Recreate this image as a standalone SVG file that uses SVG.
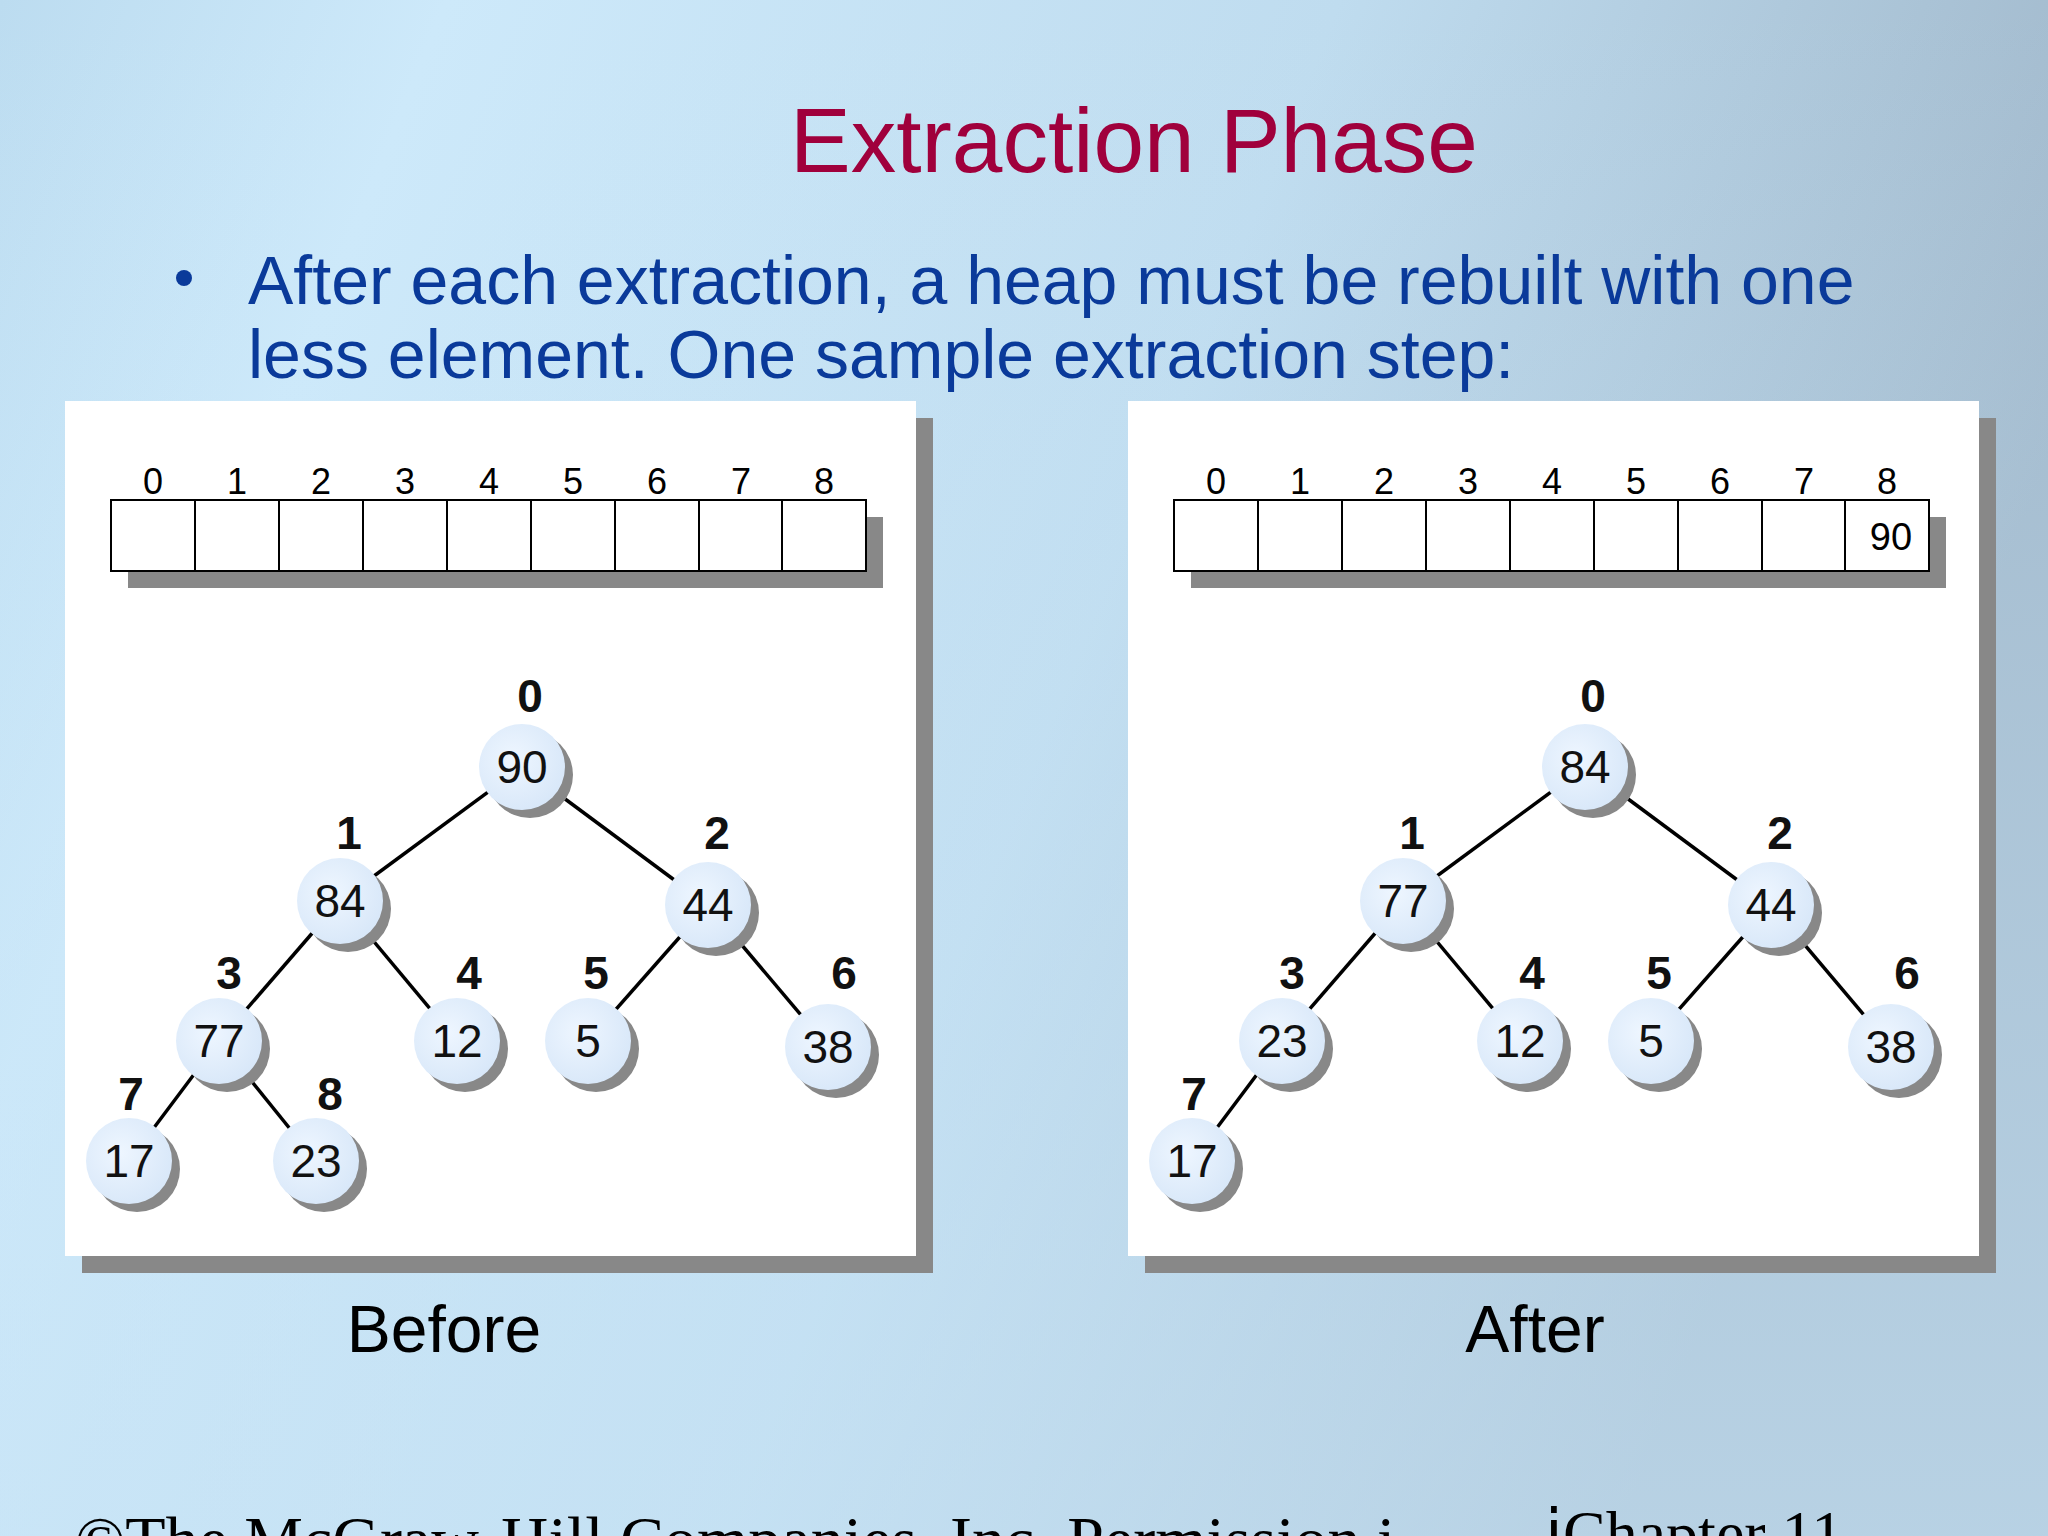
<svg xmlns="http://www.w3.org/2000/svg" width="2048" height="1536" viewBox="0 0 2048 1536">
<defs>
<linearGradient id="bg" x1="0" y1="0" x2="1" y2="0.3">
<stop offset="0" stop-color="#bcdcf0"/>
<stop offset="0.2" stop-color="#cde9fa"/>
<stop offset="0.6" stop-color="#bfdcef"/>
<stop offset="1" stop-color="#9fb6c9"/>
</linearGradient>
<linearGradient id="bg2" x1="0" y1="0" x2="0" y2="1">
<stop offset="0" stop-color="#cde9fa" stop-opacity="0"/>
<stop offset="1" stop-color="#c8e4f6" stop-opacity="0.6"/>
</linearGradient>
<radialGradient id="nd" cx="0.4" cy="0.4" r="0.7">
<stop offset="0" stop-color="#eef6ff"/>
<stop offset="1" stop-color="#d6e6f8"/>
</radialGradient>
<g id="arr">
<rect x="17" y="17" width="755" height="71" fill="#888"/>
<rect x="0" y="0" width="755" height="71" fill="#fff" stroke="#000" stroke-width="2"/>
<path d="M84 0V71M168 0V71M252 0V71M336 0V71M420 0V71M504 0V71M588 0V71M671 0V71" stroke="#000" stroke-width="2"/>
<g class="ix">
<text x="42" y="-6">0</text><text x="126" y="-6">1</text><text x="210" y="-6">2</text><text x="294" y="-6">3</text><text x="378" y="-6">4</text><text x="462" y="-6">5</text><text x="546" y="-6">6</text><text x="630" y="-6">7</text><text x="713" y="-6">8</text>
</g>
</g>
</defs>
<style>
.ix{font-family:"Liberation Sans",Arial,sans-serif;font-size:36px;text-anchor:middle;fill:#000}
.n circle.s{fill:#888}
.n circle.c{fill:url(#nd)}
.n text{font-family:"Liberation Sans",Arial,sans-serif;font-size:46px;text-anchor:middle;fill:#111}
.lb{font-family:"DejaVu Sans Mono",monospace;font-weight:bold;font-size:38px;text-anchor:middle;fill:#000}
.e line{stroke:#000;stroke-width:3.5}
</style>
<rect width="2048" height="1536" fill="url(#bg)"/>
<rect width="2048" height="1536" fill="url(#bg2)"/>
<text x="1134" y="172" font-family="Liberation Sans,Arial,sans-serif" font-size="91" fill="#a0003c" text-anchor="middle">Extraction Phase</text>
<circle cx="184" cy="278" r="8" fill="#0a3a9a"/>
<text font-family="Liberation Sans,Arial,sans-serif" font-size="68" fill="#0a3a9a"><tspan x="248" y="304">After each extraction, a heap must be rebuilt with one</tspan><tspan x="248" y="378">less element. One sample extraction step:</tspan></text>

<g id="panelL">
<rect x="82" y="418" width="851" height="855" fill="#888"/>
<rect x="65" y="401" width="851" height="855" fill="#fff"/>
<use href="#arr" x="111" y="500"/>
</g>
<g id="panelR">
<rect x="1145" y="418" width="851" height="855" fill="#888"/>
<rect x="1128" y="401" width="851" height="855" fill="#fff"/>
<use href="#arr" x="1174" y="500"/>
<text x="1891" y="550" font-family="Liberation Sans,Arial,sans-serif" font-size="38" text-anchor="middle">90</text>
</g>

<g id="connectors" class="e">
<line x1="522" y1="767" x2="340" y2="901"/><line x1="522" y1="767" x2="708" y2="905"/>
<line x1="340" y1="901" x2="219" y2="1041"/><line x1="340" y1="901" x2="457" y2="1041"/>
<line x1="708" y1="905" x2="588" y2="1041"/><line x1="708" y1="905" x2="828" y2="1047"/>
<line x1="219" y1="1041" x2="129" y2="1161"/><line x1="219" y1="1041" x2="316" y2="1161"/>
<line x1="1585" y1="767" x2="1403" y2="901"/><line x1="1585" y1="767" x2="1771" y2="905"/>
<line x1="1403" y1="901" x2="1282" y2="1041"/><line x1="1403" y1="901" x2="1520" y2="1041"/>
<line x1="1771" y1="905" x2="1651" y2="1041"/><line x1="1771" y1="905" x2="1891" y2="1047"/>
<line x1="1282" y1="1041" x2="1192" y2="1161"/>
</g>

<g id="treeL">
<g id="L0" class="n"><circle class="s" cx="530" cy="775" r="43"/><circle class="c" cx="522" cy="767" r="43"/><text x="522" y="783">90</text><text class="lb" x="530" y="712">0</text></g>
<g id="L1" class="n"><circle class="s" cx="348" cy="909" r="43"/><circle class="c" cx="340" cy="901" r="43"/><text x="340" y="917">84</text><text class="lb" x="349" y="849">1</text></g>
<g id="L2" class="n"><circle class="s" cx="716" cy="913" r="43"/><circle class="c" cx="708" cy="905" r="43"/><text x="708" y="921">44</text><text class="lb" x="717" y="849">2</text></g>
<g id="L3" class="n"><circle class="s" cx="227" cy="1049" r="43"/><circle class="c" cx="219" cy="1041" r="43"/><text x="219" y="1057">77</text><text class="lb" x="229" y="989">3</text></g>
<g id="L4" class="n"><circle class="s" cx="465" cy="1049" r="43"/><circle class="c" cx="457" cy="1041" r="43"/><text x="457" y="1057">12</text><text class="lb" x="469" y="989">4</text></g>
<g id="L5" class="n"><circle class="s" cx="596" cy="1049" r="43"/><circle class="c" cx="588" cy="1041" r="43"/><text x="588" y="1057">5</text><text class="lb" x="596" y="989">5</text></g>
<g id="L6" class="n"><circle class="s" cx="836" cy="1055" r="43"/><circle class="c" cx="828" cy="1047" r="43"/><text x="828" y="1063">38</text><text class="lb" x="844" y="989">6</text></g>
<g id="L7" class="n"><circle class="s" cx="137" cy="1169" r="43"/><circle class="c" cx="129" cy="1161" r="43"/><text x="129" y="1177">17</text><text class="lb" x="131" y="1110">7</text></g>
<g id="L8" class="n"><circle class="s" cx="324" cy="1169" r="43"/><circle class="c" cx="316" cy="1161" r="43"/><text x="316" y="1177">23</text><text class="lb" x="330" y="1110">8</text></g>
</g>

<g id="treeR">
<g id="R0" class="n"><circle class="s" cx="1593" cy="775" r="43"/><circle class="c" cx="1585" cy="767" r="43"/><text x="1585" y="783">84</text><text class="lb" x="1593" y="712">0</text></g>
<g id="R1" class="n"><circle class="s" cx="1411" cy="909" r="43"/><circle class="c" cx="1403" cy="901" r="43"/><text x="1403" y="917">77</text><text class="lb" x="1412" y="849">1</text></g>
<g id="R2" class="n"><circle class="s" cx="1779" cy="913" r="43"/><circle class="c" cx="1771" cy="905" r="43"/><text x="1771" y="921">44</text><text class="lb" x="1780" y="849">2</text></g>
<g id="R3" class="n"><circle class="s" cx="1290" cy="1049" r="43"/><circle class="c" cx="1282" cy="1041" r="43"/><text x="1282" y="1057">23</text><text class="lb" x="1292" y="989">3</text></g>
<g id="R4" class="n"><circle class="s" cx="1528" cy="1049" r="43"/><circle class="c" cx="1520" cy="1041" r="43"/><text x="1520" y="1057">12</text><text class="lb" x="1532" y="989">4</text></g>
<g id="R5" class="n"><circle class="s" cx="1659" cy="1049" r="43"/><circle class="c" cx="1651" cy="1041" r="43"/><text x="1651" y="1057">5</text><text class="lb" x="1659" y="989">5</text></g>
<g id="R6" class="n"><circle class="s" cx="1899" cy="1055" r="43"/><circle class="c" cx="1891" cy="1047" r="43"/><text x="1891" y="1063">38</text><text class="lb" x="1907" y="989">6</text></g>
<g id="R7" class="n"><circle class="s" cx="1200" cy="1169" r="43"/><circle class="c" cx="1192" cy="1161" r="43"/><text x="1192" y="1177">17</text><text class="lb" x="1194" y="1110">7</text></g>
</g>

<text x="444" y="1352" font-family="Liberation Sans,Arial,sans-serif" font-size="66" text-anchor="middle">Before</text>
<text x="1535" y="1352" font-family="Liberation Sans,Arial,sans-serif" font-size="66" text-anchor="middle">After</text>
<text x="75" y="1562" font-family="Liberation Serif,Times New Roman,serif" font-size="66">©The McGraw-Hill Companies, Inc. Permission i</text>
<text x="1545" y="1555" font-family="Liberation Serif,Times New Roman,serif" font-size="64">ⅰChapter 11</text>
</svg>
